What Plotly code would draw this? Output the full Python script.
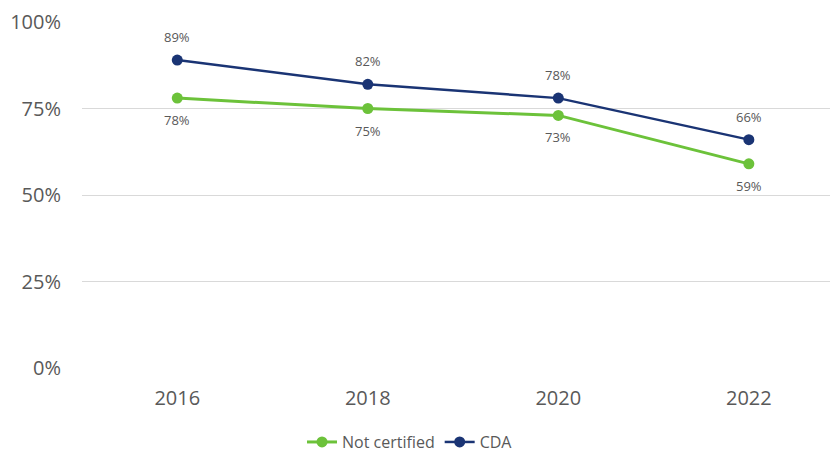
import plotly.graph_objects as go

years = ["2016", "2018", "2020", "2022"]
not_certified = [78, 75, 73, 59]
cda = [89, 82, 78, 66]
y_ticks = [0, 25, 50, 75, 100]
y_tick_labels = ["0%", "25%", "50%", "75%", "100%"]

xidx = list(range(len(years)))
green = "#6CC23A"
navy = "#1A3474"
label_color = "#595959"

fig = go.Figure()
fig.add_trace(go.Scatter(
    x=xidx, y=not_certified, name="Not certified", mode="lines+markers",
    line=dict(color=green, width=3), marker=dict(size=11, color=green),
    cliponaxis=False,
))
fig.add_trace(go.Scatter(
    x=xidx, y=cda, name="CDA", mode="lines+markers",
    line=dict(color=navy, width=2.5), marker=dict(size=11, color=navy),
    cliponaxis=False,
))
for xi, v in zip(xidx, not_certified):
    fig.add_annotation(x=xi, y=v, text=f"{v}%", showarrow=False, yshift=-22,
                       font=dict(size=13, color=label_color))
for xi, v in zip(xidx, cda):
    fig.add_annotation(x=xi, y=v, text=f"{v}%", showarrow=False, yshift=23,
                       font=dict(size=13, color=label_color))

fig.update_layout(
    width=830, height=452,
    margin=dict(l=82, r=0, t=22, b=84),
    plot_bgcolor="white", paper_bgcolor="white",
    font=dict(family="Open Sans", color=label_color),
    xaxis=dict(range=[-0.5, 3.426], tickvals=xidx, ticktext=years, showgrid=False,
               zeroline=False, showline=False, tickfont=dict(size=20), ticks="",
               automargin=False, ticklabelstandoff=16),
    yaxis=dict(range=[0, 100], tickvals=y_ticks, ticktext=y_tick_labels,
               gridcolor="#D9D9D9", gridwidth=1, zeroline=False, showline=False,
               tickfont=dict(size=20), ticks="", ticklabelstandoff=20, automargin=False),
    legend=dict(orientation="h", xref="container", x=0.494, xanchor="center",
                yref="container", y=0.022, yanchor="middle",
                font=dict(size=16, color=label_color), itemwidth=30),
    showlegend=True,
)
fig.write_html("out.html", post_script="document.body.style.margin='0';",
               config={"displayModeBar": False})
